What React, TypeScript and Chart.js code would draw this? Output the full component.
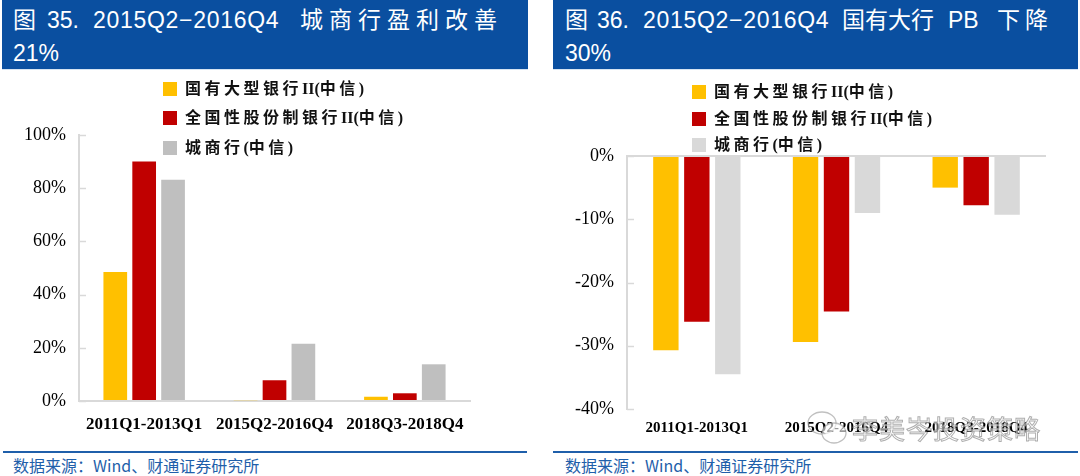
import React, { useEffect, useRef } from "react";
import { Chart, registerables } from "chart.js";

Chart.register(...registerables);

// ---------- data ----------
const categories = ["2011Q1-2013Q1", "2015Q2-2016Q4", "2018Q3-2018Q4"];
const seriesNames = ["国有大型银行II(中信)", "全国性股份制银行II(中信)", "城商行(中信)"];

// Figure 35: profit change (%)
const profitStateBanks = [48.5, 0.3, 1.6];
const profitJointStock = [90.0, 7.8, 2.9];
const profitCityBanks = [83.2, 21.5, 13.8];
const profitTicks = [0, 20, 40, 60, 80, 100];

// Figure 36: PB change (%)
const pbStateBanks = [-30.7, -29.4, -5.0];
const pbJointStock = [-26.2, -24.6, -7.8];
const pbCityBanks = [-34.5, -9.0, -9.3];
const pbTicks = [-40, -30, -20, -10, 0];

const YELLOW = "#FFC000";
const RED = "#C00000";
const GRAY_L = "#BFBFBF";
const GRAY_R = "#D9D9D9";
const AXIS = "#D9D9D9";
const BLUE = "#0A4FA0";
const FOOT_BLUE = "#1F5FAA";

const innerTicks = {
  id: "innerTicks",
  afterDatasetsDraw(chart: any) {
    const y = chart.scales.y;
    const ctx = chart.ctx;
    ctx.save();
    ctx.strokeStyle = AXIS;
    ctx.lineWidth = 1.5;
    y.ticks.forEach((_t: any, i: number) => {
      const py = Math.round(y.getPixelForTick(i)) + 0.5;
      ctx.beginPath();
      ctx.moveTo(chart.chartArea.left, py);
      ctx.lineTo(chart.chartArea.left + 7, py);
      ctx.stroke();
    });
    ctx.restore();
  },
};

function BarChart(props: {
  left: number;
  top: number;
  width: number;
  height: number;
  data: number[][];
  colors: string[];
  ticks: number[];
  yWidth: number;
  padTop: number;
  padRight: number;
  xHeight: number;
  xFont: number;
  xPad: number;
  xBorder: boolean;
  zeroLine: boolean;
}) {
  const ref = useRef<HTMLCanvasElement | null>(null);
  useEffect(() => {
    if (!ref.current) return;
    const p = props;
    const chart = new Chart(ref.current, {
      type: "bar",
      data: {
        labels: categories,
        datasets: p.data.map((d, i) => ({
          label: seriesNames[i],
          data: d,
          backgroundColor: p.colors[i],
          borderWidth: 0,
          categoryPercentage: 0.665,
          barPercentage: 0.82,
        })),
      },
      options: {
        animation: false,
        responsive: false,
        maintainAspectRatio: false,
        layout: { padding: { top: p.padTop, right: p.padRight, left: 0, bottom: 0 } },
        plugins: { legend: { display: false }, tooltip: { enabled: false } },
        scales: {
          x: {
            position: "bottom",
            grid: { display: true, drawOnChartArea: false, drawTicks: false },
            border: { display: p.xBorder, color: AXIS, width: 2 },
            ticks: {
              color: "#000",
              padding: p.xPad,
              maxRotation: 0,
              font: { family: "'Liberation Serif', serif", size: p.xFont, weight: "bold" },
            },
            afterFit: (s: any) => {
              s.height = p.xHeight;
            },
          },
          y: {
            min: p.ticks[0],
            max: p.ticks[p.ticks.length - 1],
            afterBuildTicks: (s: any) => {
              s.ticks = p.ticks.map((v) => ({ value: v }));
            },
            grid: {
              display: true,
              drawOnChartArea: p.zeroLine,
              drawTicks: false,
              lineWidth: 2,
              color: (c: any) => (p.zeroLine && c.tick && c.tick.value === 0 ? AXIS : "rgba(0,0,0,0)"),
            },
            border: { display: true, color: AXIS, width: 2 },
            ticks: {
              color: "#000",
              padding: 13,
              font: { family: "'Liberation Serif', serif", size: 18 },
              callback: (v: any) => `${v}%`,
            },
            afterFit: (s: any) => {
              s.width = p.yWidth;
            },
          },
        },
      },
      plugins: [innerTicks],
    });
    return () => chart.destroy();
  }, []);
  return (
    <canvas
      ref={ref}
      width={props.width}
      height={props.height}
      style={{ position: "absolute", left: props.left, top: props.top, width: props.width, height: props.height }}
    />
  );
}

const hdrFont = "'Liberation Sans', 'Noto Sans CJK SC', sans-serif";

function HText(props: { x: number; y: number; text: string; ls?: number }) {
  return (
    <div
      style={{
        position: "absolute",
        left: props.x,
        top: props.y - 15,
        height: 30,
        lineHeight: "30px",
        whiteSpace: "nowrap",
        color: "#fff",
        fontFamily: hdrFont,
        fontSize: 23,
        letterSpacing: props.ls ?? 0,
      }}
    >
      {props.text}
    </div>
  );
}

function splitRuns(s: string) {
  const parts = s.match(/[\u4e00-\u9fff]+|[^\u4e00-\u9fff]+/g) || [];
  return parts.map((t) => ({ t, cjk: /[\u4e00-\u9fff]/.test(t) }));
}

function Legend(props: { x: number; ys: number[]; colors: string[] }) {
  return (
    <>
      {seriesNames.map((n, i) => (
        <div key={n}>
          <div
            style={{
              position: "absolute",
              left: props.x,
              top: props.ys[i] - 7,
              width: 14,
              height: 14,
              background: props.colors[i],
            }}
          />
          <div
            style={{
              position: "absolute",
              left: props.x + 22,
              top: props.ys[i] - 12,
              height: 24,
              lineHeight: "24px",
              whiteSpace: "nowrap",
              fontFamily: "'Liberation Serif', 'Noto Sans CJK SC', serif",
              fontWeight: "bold",
              fontSize: 16,
              color: "#111",
            }}
          >
            {splitRuns(n).map((r, k) => (
              <span key={k} style={{ letterSpacing: r.cjk ? 3.5 : 0 }}>
                {r.t}
              </span>
            ))}
          </div>
        </div>
      ))}
    </>
  );
}

function Footer(props: { x0: number; x1: number; tx: number }) {
  return (
    <>
      <div
        style={{
          position: "absolute",
          left: props.x0,
          top: 451,
          width: props.x1 - props.x0,
          height: 2,
          background: FOOT_BLUE,
        }}
      />
      <div
        style={{
          position: "absolute",
          left: props.tx,
          top: 454,
          height: 22,
          lineHeight: "22px",
          whiteSpace: "nowrap",
          fontFamily: "'Noto Sans CJK SC', sans-serif",
          fontSize: 16,
          color: FOOT_BLUE,
        }}
      >
        数据来源：Wind、财通证券研究所
      </div>
    </>
  );
}

export default function App() {
  useEffect(() => {
    document.body.style.margin = "0";
  }, []);
  return (
    <div style={{ position: "absolute", left: 0, top: 0, width: 1080, height: 476, background: "#fff", overflow: "hidden" }}>
      {/* Left header */}
      <div style={{ position: "absolute", left: 2, top: 0, width: 526, height: 69, background: BLUE }} />
      <div style={{ position: "absolute", left: 2, top: 69, width: 526, height: 1, background: "#d6e4f2" }} />
      <HText x={13} y={20} text="图" />
      <HText x={47} y={20} text="35." />
      <HText x={93} y={20} text="2015Q2−2016Q4" ls={0.7} />
      <HText x={300} y={20} text="城商行盈利改善" ls={6} />
      <HText x={13} y={53} text="21%" />

      {/* Right header */}
      <div style={{ position: "absolute", left: 553, top: 0, width: 525, height: 69, background: BLUE }} />
      <div style={{ position: "absolute", left: 553, top: 69, width: 525, height: 1, background: "#d6e4f2" }} />
      <HText x={565} y={20} text="图" />
      <HText x={597} y={20} text="36." />
      <HText x={643} y={20} text="2015Q2−2016Q4" ls={0.7} />
      <HText x={842} y={20} text="国有大行" ls={0} />
      <HText x={948} y={20} text="PB" />
      <HText x={997} y={20} text="下降" ls={5} />
      <HText x={565} y={53} text="30%" />

      <BarChart
        left={0}
        top={70}
        width={540}
        height={380}
        data={[profitStateBanks, profitJointStock, profitCityBanks]}
        colors={[YELLOW, RED, GRAY_L]}
        ticks={profitTicks}
        yWidth={79}
        padTop={65}
        padRight={70}
        xHeight={49}
        xFont={17}
        xPad={13}
        xBorder={true}
        zeroLine={false}
      />
      <BarChart
        left={540}
        top={70}
        width={540}
        height={380}
        data={[pbStateBanks, pbJointStock, pbCityBanks]}
        colors={[YELLOW, RED, GRAY_R]}
        ticks={pbTicks}
        yWidth={87}
        padTop={86}
        padRight={34}
        xHeight={41}
        xFont={15}
        xPad={10}
        xBorder={false}
        zeroLine={true}
      />

      <Legend x={163} ys={[89, 118, 148]} colors={[YELLOW, RED, GRAY_L]} />
      <Legend x={692} ys={[92, 119, 145]} colors={[YELLOW, RED, GRAY_R]} />

      {/* watermark */}
      <svg style={{ position: "absolute", left: 805, top: 408 }} width={48} height={42}>
        <ellipse cx={17} cy={15} rx={14} ry={11} fill="none" stroke="rgba(150,150,150,0.6)" strokeWidth={1.3} />
        <ellipse cx={29} cy={25} rx={12} ry={10} fill="rgba(255,255,255,0.6)" stroke="rgba(150,150,150,0.6)" strokeWidth={1.3} />
      </svg>
      <div
        style={{
          position: "absolute",
          left: 852,
          top: 412,
          height: 32,
          lineHeight: "32px",
          whiteSpace: "nowrap",
          fontFamily: "'Noto Sans CJK SC', sans-serif",
          fontSize: 26,
          letterSpacing: 1,
          color: "rgba(255,255,255,0.55)",
          WebkitTextStroke: "1px rgba(140,140,140,0.7)",
        }}
      >
        李美岑投资策略
      </div>

      <Footer x0={3} x1={527} tx={13} />
      <Footer x0={553} x1={1078} tx={565} />
    </div>
  );
}
